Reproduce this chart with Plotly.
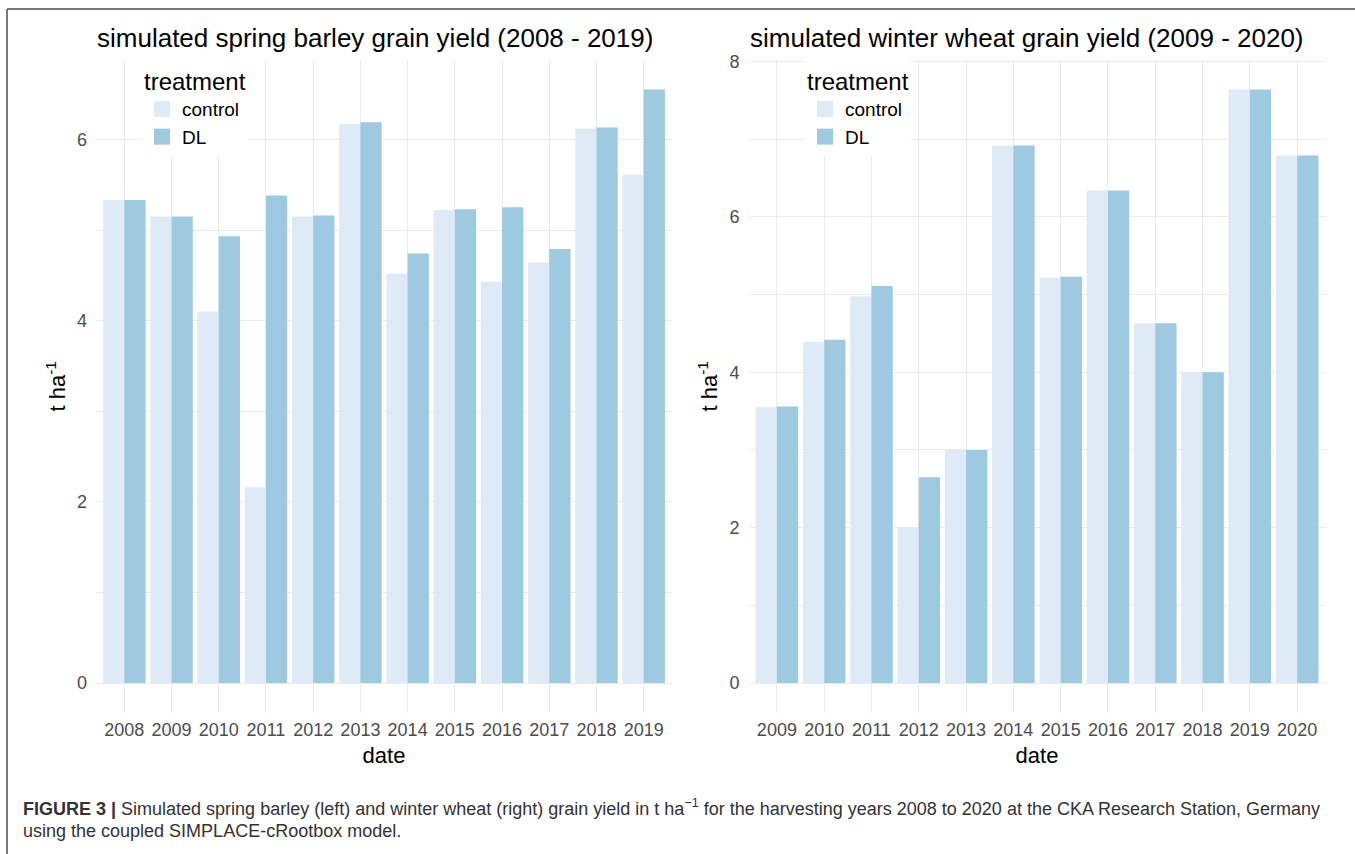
import plotly.graph_objects as go

# ---------------- data ----------------
barley_years = ["2008", "2009", "2010", "2011", "2012", "2013",
                "2014", "2015", "2016", "2017", "2018", "2019"]
barley_control = [5.33, 5.15, 4.10, 2.16, 5.15, 6.17, 4.52, 5.22, 4.43, 4.64, 6.12, 5.61]
barley_dl = [5.33, 5.15, 4.93, 5.38, 5.16, 6.19, 4.74, 5.23, 5.25, 4.79, 6.13, 6.55]

wheat_years = ["2009", "2010", "2011", "2012", "2013", "2014",
               "2015", "2016", "2017", "2018", "2019", "2020"]
wheat_control = [3.55, 4.39, 4.98, 2.00, 3.00, 6.92, 5.22, 6.34, 4.63, 4.00, 7.64, 6.79]
wheat_dl = [3.56, 4.42, 5.11, 2.65, 3.00, 6.92, 5.23, 6.34, 4.63, 4.00, 7.64, 6.79]

treatments = ["control", "DL"]
titles = ["simulated spring barley grain yield (2008 - 2019)",
          "simulated winter wheat grain yield (2009 - 2020)"]
caption_line1 = ("<b>FIGURE 3 |</b> Simulated spring barley (left) and winter wheat (right) "
                 "grain yield in t ha<sup>\u22121</sup> for the harvesting years 2008 to 2020 "
                 "at the CKA Research Station, Germany")
caption_line2 = "using the coupled SIMPLACE-cRootbox model."

# ---------------- styling ----------------
W, H = 1355, 854
FONT = "Liberation Sans, Arial, Helvetica, sans-serif"
COL_CONTROL = "#deebf7"
COL_DL = "#9ecae1"
COLORS = [COL_CONTROL, COL_DL]
GRID = "#ebebeb"
TICK_COL = "#4d4d4d"

def px(v):
    return v / W

def py(v):
    # compensate the small vertical offset seen in the rendered page
    v = (v - 7) / 0.9925
    return 1 - v / H

x1 = [px(96), px(672)]
x2 = [px(748.5), px(1325.5)]
ydom = [py(713), py(59)]

fig = go.Figure()

def add_panel(years, ctrl, dl, xa, ya, leg):
    for name, vals, col in zip(treatments, (ctrl, dl), COLORS):
        fig.add_trace(go.Bar(x=years, y=vals, name=name, marker_color=col,
                             marker_line_width=0, xaxis=xa, yaxis=ya, legend=leg,
                             showlegend=False, legendgroup=leg + name,
                             hovertemplate="%{x}: %{y}<extra>" + name + "</extra>"))
    # legend keys (large filled squares, as in the ggplot legend)
    for name, col in zip(treatments, COLORS):
        fig.add_trace(go.Scatter(x=[None], y=[None], mode="markers", name=name,
                                 marker=dict(symbol="square", size=16, color=col),
                                 xaxis=xa, yaxis=ya, legend=leg, legendgroup=leg + name,
                                 showlegend=True, hoverinfo="skip"))

add_panel(barley_years, barley_control, barley_dl, "x", "y", "legend")
add_panel(wheat_years, wheat_control, wheat_dl, "x2", "y2", "legend2")

def yrange(ctrl, dl):
    mx = max(max(ctrl), max(dl))
    return [-0.05 * mx, 1.05 * mx]

xaxis_common = dict(type="category", range=[-0.6, 11.6], showgrid=True, gridcolor=GRID,
                    gridwidth=1, zeroline=False, showline=False, ticks="",
                    ticklabelstandoff=4,
                    tickfont=dict(family=FONT, size=18, color=TICK_COL),
                    title=dict(text="date", font=dict(family=FONT, size=22, color="black"),
                               standoff=8),
                    fixedrange=True)
yaxis_common = dict(showgrid=True, gridcolor=GRID, gridwidth=1, zeroline=False,
                    showline=False, ticks="", dtick=2, ticklabelstandoff=8,
                    tickfont=dict(family=FONT, size=18, color=TICK_COL),
                    minor=dict(dtick=1, showgrid=True, gridcolor=GRID, gridwidth=0.6),
                    title=dict(text="t ha<sup>-1</sup>",
                               font=dict(family=FONT, size=22, color="black"), standoff=5),
                    fixedrange=True)

legend_common = dict(title=dict(text="treatment", font=dict(family=FONT, size=24, color="black")),
                     font=dict(family=FONT, size=19, color="black"), bgcolor="white",
                     xanchor="left", yanchor="top", tracegroupgap=0, itemsizing="trace",
                     itemclick=False, itemdoubleclick=False)

fig.update_layout(
    xaxis=dict(domain=x1, anchor="y", **xaxis_common),
    xaxis2=dict(domain=x2, anchor="y2", **xaxis_common),
    yaxis=dict(domain=ydom, anchor="x", range=yrange(barley_control, barley_dl), **yaxis_common),
    yaxis2=dict(domain=ydom, anchor="x2", range=yrange(wheat_control, wheat_dl), **yaxis_common),
    barmode="group", bargap=0.1, bargroupgap=0,
    width=W, height=H, margin=dict(l=0, r=0, t=0, b=0),
    paper_bgcolor="white", plot_bgcolor="white",
    font=dict(family=FONT, color="black"),
    showlegend=True,
    legend=dict(x=px(142), y=py(58), **legend_common),
    legend2=dict(x=px(805), y=py(58), **legend_common),
)

# panel titles (left aligned with the panel, like ggplot)
for dom, txt in ((x1, titles[0]), (x2, titles[1])):
    fig.add_annotation(text=txt, xref="paper", yref="paper", x=dom[0] - px(1), y=py(37),
                       xanchor="left", yanchor="middle", showarrow=False,
                       font=dict(family=FONT, size=26, color="black"))

# caption
fig.add_annotation(text=caption_line1, xref="paper", yref="paper", x=px(21), y=py(808),
                   xanchor="left", yanchor="middle", showarrow=False, align="left",
                   font=dict(family=FONT, size=18, color="#333333"))
fig.add_annotation(text=caption_line2, xref="paper", yref="paper", x=px(21), y=py(832),
                   xanchor="left", yanchor="middle", showarrow=False, align="left",
                   font=dict(family=FONT, size=18, color="#333333"))

# frame lines (top and left)
fig.add_shape(type="line", xref="paper", yref="paper", x0=px(7), x1=1, y0=py(8), y1=py(8),
              line=dict(color="#4a4a4a", width=1.5))
fig.add_shape(type="line", xref="paper", yref="paper", x0=px(7), x1=px(7), y0=py(8), y1=0,
              line=dict(color="#7a7a7a", width=2))

fig.write_html("out.html", config={"responsive": False, "displayModeBar": False},
               post_script="document.body.style.margin='0';document.body.style.overflow='hidden';")
